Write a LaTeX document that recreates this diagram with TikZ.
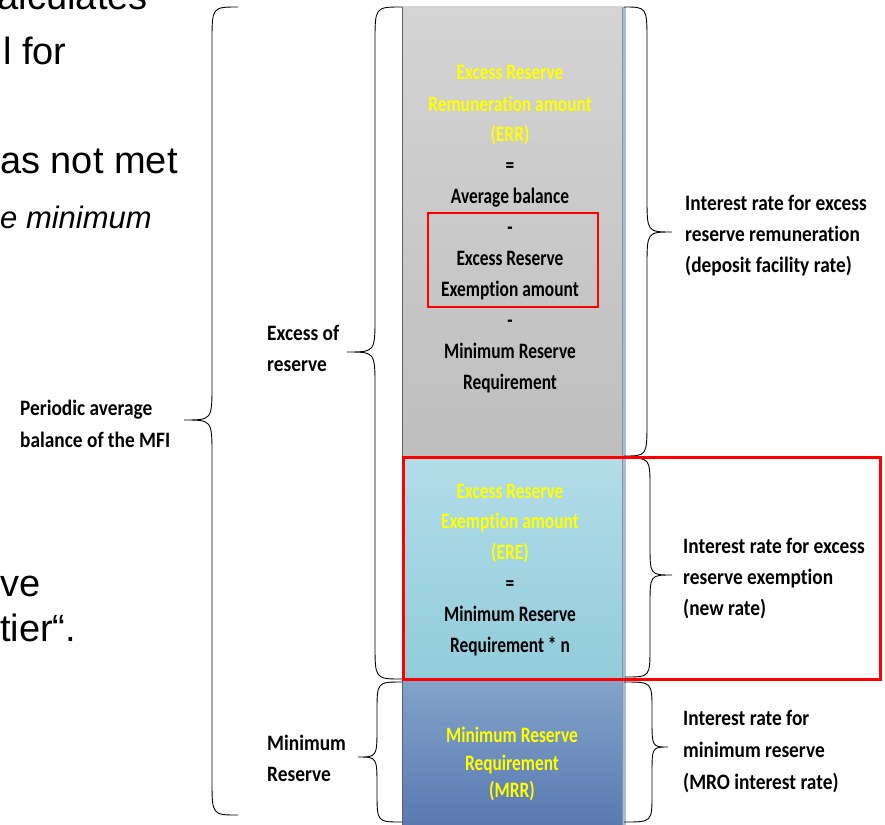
\documentclass[tikz,border=0pt]{standalone}
\usepackage{fontspec}
\setmainfont{Carlito}[FakeStretch=0.79, Ligatures=NoCommon]
\newfontfamily\labelfont{Carlito}[FakeStretch=0.88, Ligatures=NoCommon]
\newfontfamily\slidefont{Liberation Sans}
\definecolor{grayTop}{HTML}{D4D4D4}
\definecolor{grayBot}{HTML}{BEBEBE}
\definecolor{lbTop}{HTML}{B3DCE8}
\definecolor{lbBot}{HTML}{91CCDA}
\definecolor{blTop}{HTML}{83A3CB}
\definecolor{blBot}{HTML}{5878B0}
\definecolor{edgeGray}{HTML}{5F5F5F}
\definecolor{edgeBlue}{HTML}{A5BCDD}
\definecolor{txtYellow}{HTML}{FFFF00}
\definecolor{markRed}{HTML}{FF0000}
% curly brace: end x, spine x, tip x, top y, tip y, bottom y, corner radius
\newcommand{\drawbrace}[7]{%
  \draw[bracestyle] (#1,#4) .. controls (#2,#4) .. (#2,{#4+#7})
    -- (#2,{#5-#7}) .. controls (#2,#5) .. (#3,#5)
    .. controls (#2,#5) .. (#2,{#5+#7})
    -- (#2,{#6-#7}) .. controls (#2,#6) .. (#1,#6);}
\begin{document}
\begin{tikzpicture}[x=1pt,y=-1pt,
  bracestyle/.style={draw=black, line width=0.9pt},
  coltext/.style={font=\bfseries\fontsize{22}{26}\selectfont, inner sep=0pt, anchor=base},
  yeltext/.style={coltext, text=txtYellow},
  sidelabel/.style={font=\labelfont\bfseries\fontsize{22}{26}\selectfont, inner sep=0pt, anchor=base west},
  slidetext/.style={font=\slidefont\fontsize{38}{44}\selectfont, inner sep=0pt},
  redbox/.style={draw=markRed, line width=3pt}]
\clip (0,0) rectangle (885,824);
\fill[white] (0,0) rectangle (885,824);

% slide text running in from the left edge
\node[slidetext, anchor=base east] (s1) at (148,10) {alculates};
\node[slidetext, anchor=base west] (s2) at (3,65) {l for};
\node[slidetext, anchor=base west] (s3) at (0,173) {as not met};
\node[slidetext, anchor=base west, font=\slidefont\itshape\fontsize{31}{36}\selectfont] (s4) at (0,228) {e minimum};
\node[slidetext, anchor=base west] (s5) at (0,596) {ve};
\node[slidetext, anchor=base west] (s6) at (0,641) {tier“.};

% stacked column
\fill[top color=grayTop, bottom color=grayBot] (402,7) rectangle (622,457);
\fill[top color=lbTop, bottom color=lbBot] (402,457) rectangle (622,680);
\fill[top color=blTop, bottom color=blBot] (402,680) rectangle (622,830);
\fill[edgeBlue] (622,7) rectangle (626,830);
\draw[edgeGray, line width=1pt] (402,7) -- (402,830);
\draw[edgeGray!70, line width=0.6pt] (622,7) -- (622,830);

% braces
\drawbrace{238}{212}{184}{7}{420}{815}{35}
\drawbrace{402}{375}{347}{7}{352}{679}{35}
\drawbrace{402}{377}{358}{682}{757}{822}{30}
\drawbrace{624}{647}{672}{7}{232}{456}{35}
\drawbrace{625}{650}{672}{458}{575}{677}{30}
\drawbrace{624}{652}{668}{682}{747}{822}{28}

% excess reserve remuneration block
\node[yeltext] (g1) at (510,80) {Excess Reserve};
\node[yeltext] (g2) at (510,111) {Remuneration amount};
\node[yeltext] (g3) at (510,141) {(ERR)};
\node[coltext] (g4) at (510,172) {=};
\node[coltext] (g5) at (510,203) {Average balance};
\node[coltext] (g6) at (510,234) {-};
\node[coltext] (g7) at (510,265) {Excess Reserve};
\node[coltext] (g8) at (510,296) {Exemption amount};
\node[coltext] (g9) at (510,327) {-};
\node[coltext] (g10) at (510,358) {Minimum Reserve};
\node[coltext] (g11) at (510,389) {Requirement};

% exemption block
\node[yeltext] (e1) at (510,498) {Excess Reserve};
\node[yeltext] (e2) at (510,528) {Exemption amount};
\node[yeltext] (e3) at (510,559) {(ERE)};
\node[coltext] (e4) at (510,590) {=};
\node[coltext] (e5) at (510,621) {Minimum Reserve};
\node[coltext] (e6) at (510,652) {Requirement * n};

% minimum reserve block
\node[yeltext] (m1) at (512,742) {Minimum Reserve};
\node[yeltext] (m2) at (512,770) {Requirement};
\node[yeltext] (m3) at (512,797) {(MRR)};

% left labels
\node[sidelabel] (p1) at (20,415) {Periodic average};
\node[sidelabel] (p2) at (20,447) {balance of the MFI};
\node[sidelabel] (x1) at (267,340) {Excess of};
\node[sidelabel] (x2) at (267,371) {reserve};
\node[sidelabel] (n1) at (267,750) {Minimum};
\node[sidelabel] (n2) at (267,781) {Reserve};

% right labels
\node[sidelabel] (r1) at (685,210) {Interest rate for excess};
\node[sidelabel] (r2) at (685,241) {reserve remuneration};
\node[sidelabel] (r3) at (685,272) {(deposit facility rate)};
\node[sidelabel] (r4) at (683,553) {Interest rate for excess};
\node[sidelabel] (r5) at (683,584) {reserve exemption};
\node[sidelabel] (r6) at (683,615) {(new rate)};
\node[sidelabel] (r7) at (683,725) {Interest rate for};
\node[sidelabel] (r8) at (683,757) {minimum reserve};
\node[sidelabel] (r9) at (683,789) {(MRO interest rate)};

% highlight frames
\draw[redbox, line width=2.5pt] (428,213) rectangle (598,307);
\draw[redbox] (403,457) rectangle (880,679);
\end{tikzpicture}
\end{document}
